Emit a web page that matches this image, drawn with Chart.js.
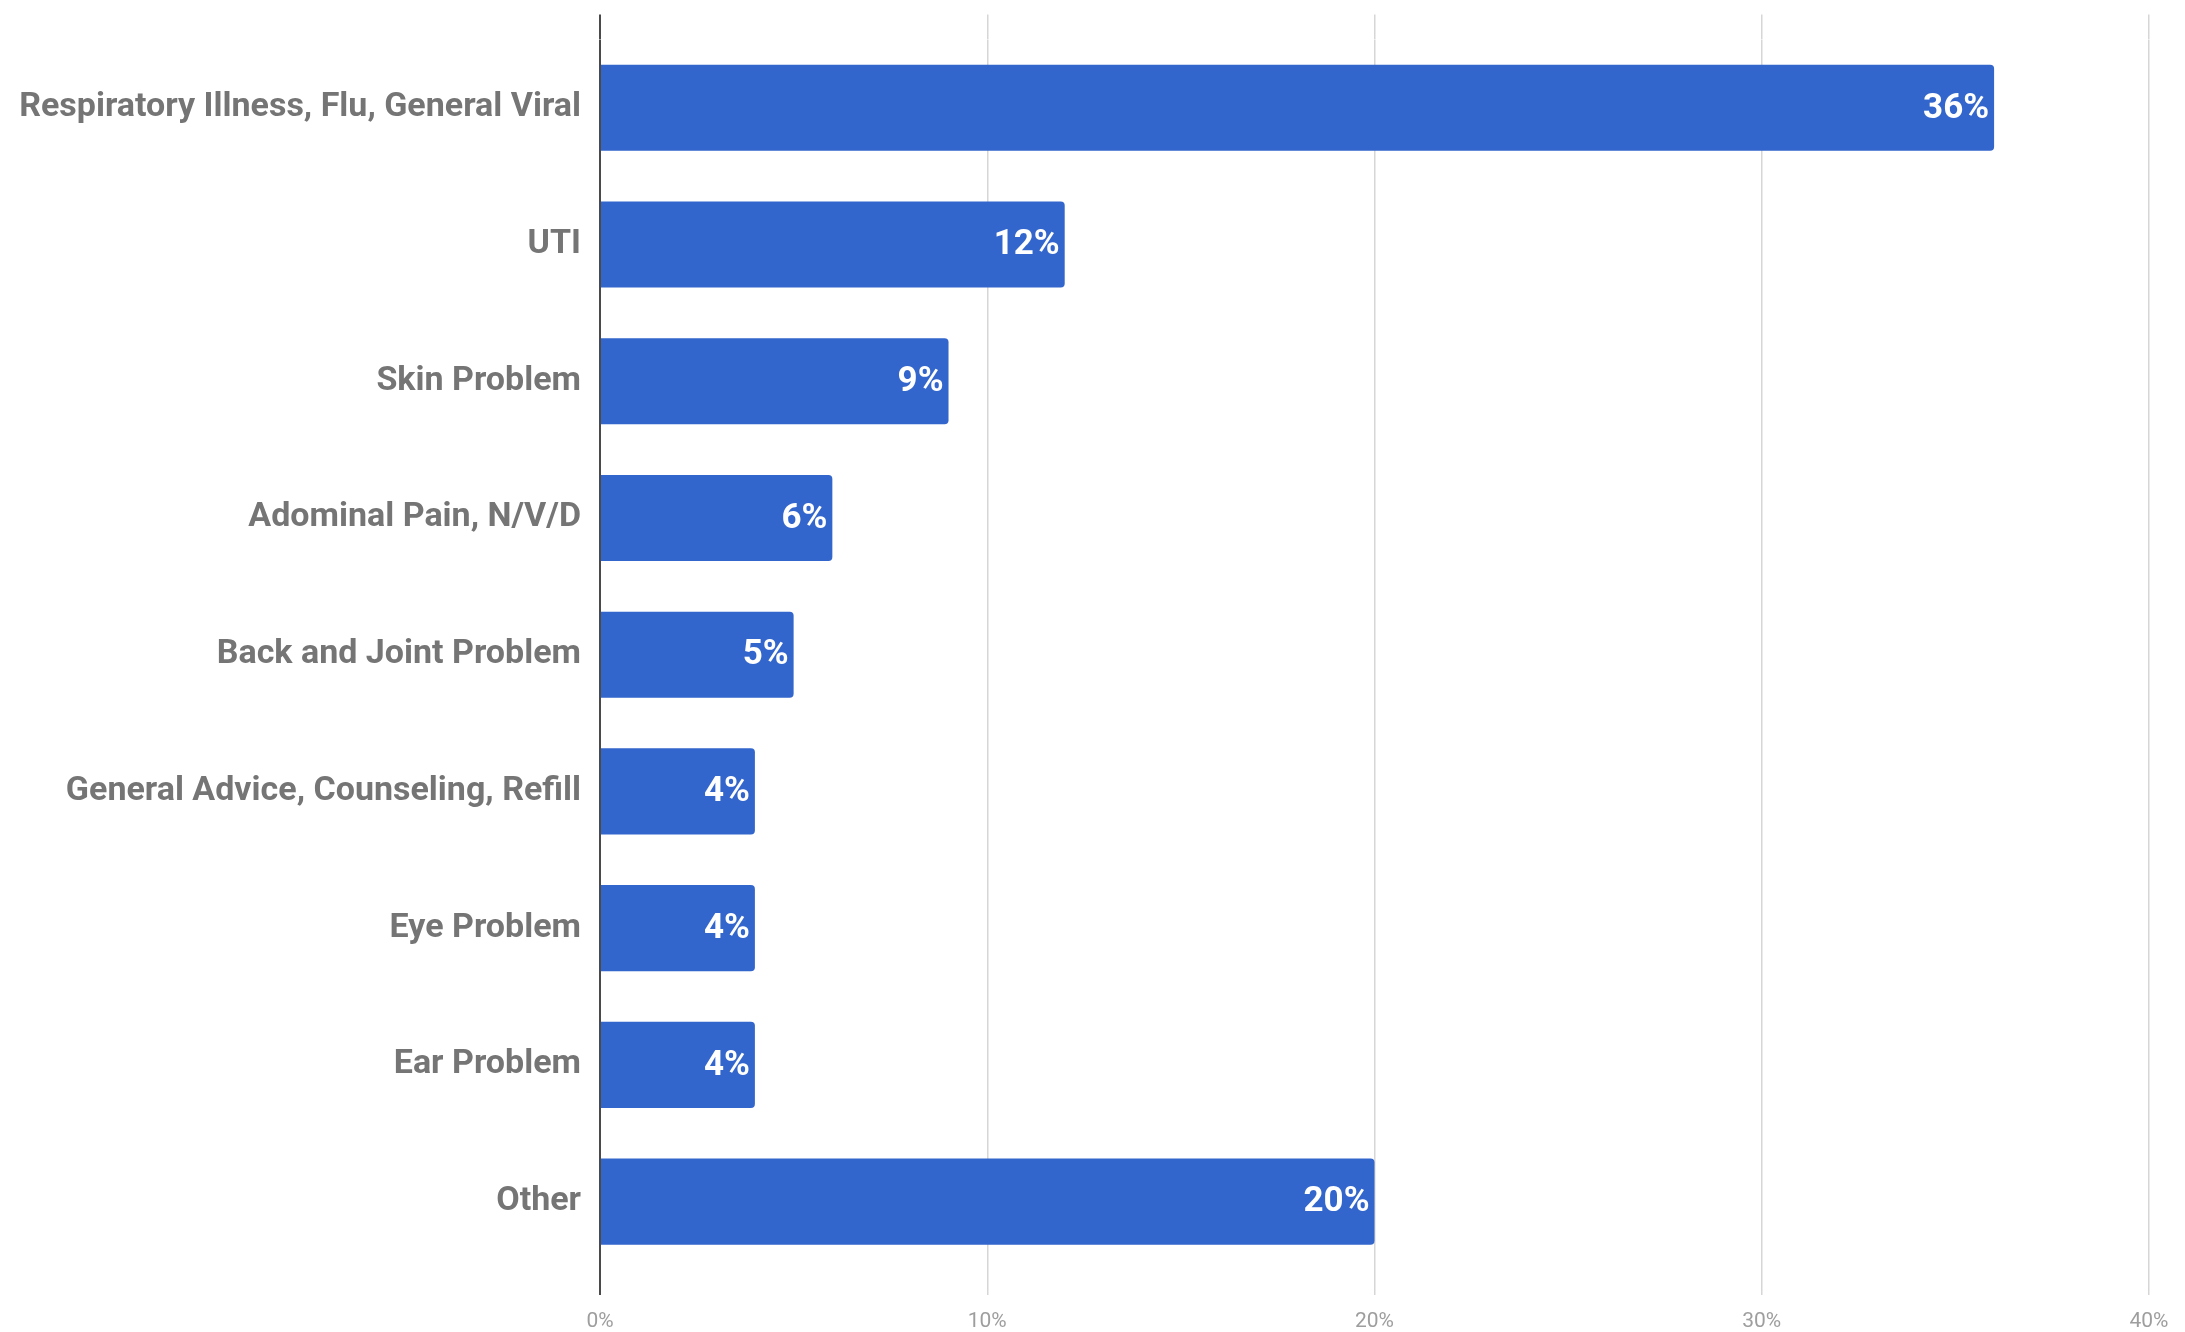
<!DOCTYPE html>
<html>
<head>
<meta charset="utf-8">
<script src="https://cdn.jsdelivr.net/npm/chart.js@4"></script>
<style>
    html, body { margin: 0; padding: 0; background: #fff; }
    canvas { display: block; }
</style>
</head>
<body>
<canvas id="visitChart" width="2185" height="1332"></canvas>
<script>
const categories = [
    "Respiratory Illness, Flu, General Viral",
    "UTI",
    "Skin Problem",
    "Adominal Pain, N/V/D",
    "Back and Joint Problem",
    "General Advice, Counseling, Refill",
    "Eye Problem",
    "Ear Problem",
    "Other"
];
const shares = [36, 12, 9, 6, 5, 4, 4, 4, 20];
const tickValues = [0, 10, 20, 30, 40];

(function () {
    Chart.defaults.font.family = "Roboto";

    const gridColor = (ctx) => (ctx.tick && ctx.tick.value === 0 ? "#4a4a4a" : "#d6d6d6");
    const gridWidth = (ctx) => (ctx.tick && ctx.tick.value === 0 ? 2 : 1.5);

    // white percentage labels inside the end of each bar
    const valueLabels = {
        id: "valueLabels",
        afterDatasetsDraw(chart) {
            const ctx = chart.ctx;
            const meta = chart.getDatasetMeta(0);
            ctx.save();
            ctx.font = "bold 35px Roboto";
            ctx.fillStyle = "#ffffff";
            ctx.textAlign = "right";
            ctx.textBaseline = "middle";
            meta.data.forEach((bar, i) => {
                ctx.fillText(shares[i] + "%", bar.x - 5, bar.y + 1);
            });
            ctx.restore();
        }
    };

    new Chart(document.getElementById("visitChart").getContext("2d"), {
        type: "bar",
        data: {
            labels: categories,
            datasets: [
                {
                    data: shares,
                    backgroundColor: "#3366cc",
                    borderRadius: 4,
                    borderSkipped: "start",
                    barPercentage: 0.63,
                    categoryPercentage: 1
                }
            ]
        },
        options: {
            indexAxis: "y",
            responsive: false,
            animation: false,
            layout: {
                padding: { top: 14, right: 36, left: 0, bottom: 0 }
            },
            scales: {
                x: {
                    position: "bottom",
                    min: 0,
                    max: 40,
                    afterBuildTicks: (scale) => {
                        scale.ticks = tickValues.map((v) => ({ value: v }));
                    },
                    afterFit: (scale) => { scale.height = 62; },
                    border: { display: false },
                    grid: {
                        color: gridColor,
                        lineWidth: gridWidth,
                        tickLength: 25
                    },
                    ticks: {
                        padding: 14,
                        color: "#9e9e9e",
                        font: { size: 21 },
                        callback: (v) => v + "%"
                    }
                },
                x2: {
                    position: "top",
                    axis: "x",
                    min: 0,
                    max: 40,
                    afterBuildTicks: (scale) => {
                        scale.ticks = tickValues.map((v) => ({ value: v }));
                    },
                    afterFit: (scale) => { scale.height = 25; },
                    border: { display: false },
                    grid: {
                        drawOnChartArea: false,
                        color: gridColor,
                        lineWidth: gridWidth,
                        tickLength: 25
                    },
                    ticks: { display: false }
                },
                y: {
                    afterFit: (scale) => { scale.width = 600; },
                    border: { display: false },
                    grid: { display: false, drawTicks: false },
                    ticks: {
                        padding: 19,
                        color: "#757575",
                        font: { size: 34, weight: "bold" }
                    }
                }
            },
            plugins: {
                legend: { display: false },
                tooltip: { enabled: false }
            }
        },
        plugins: [valueLabels]
    });
})();
</script>
</body>
</html>
